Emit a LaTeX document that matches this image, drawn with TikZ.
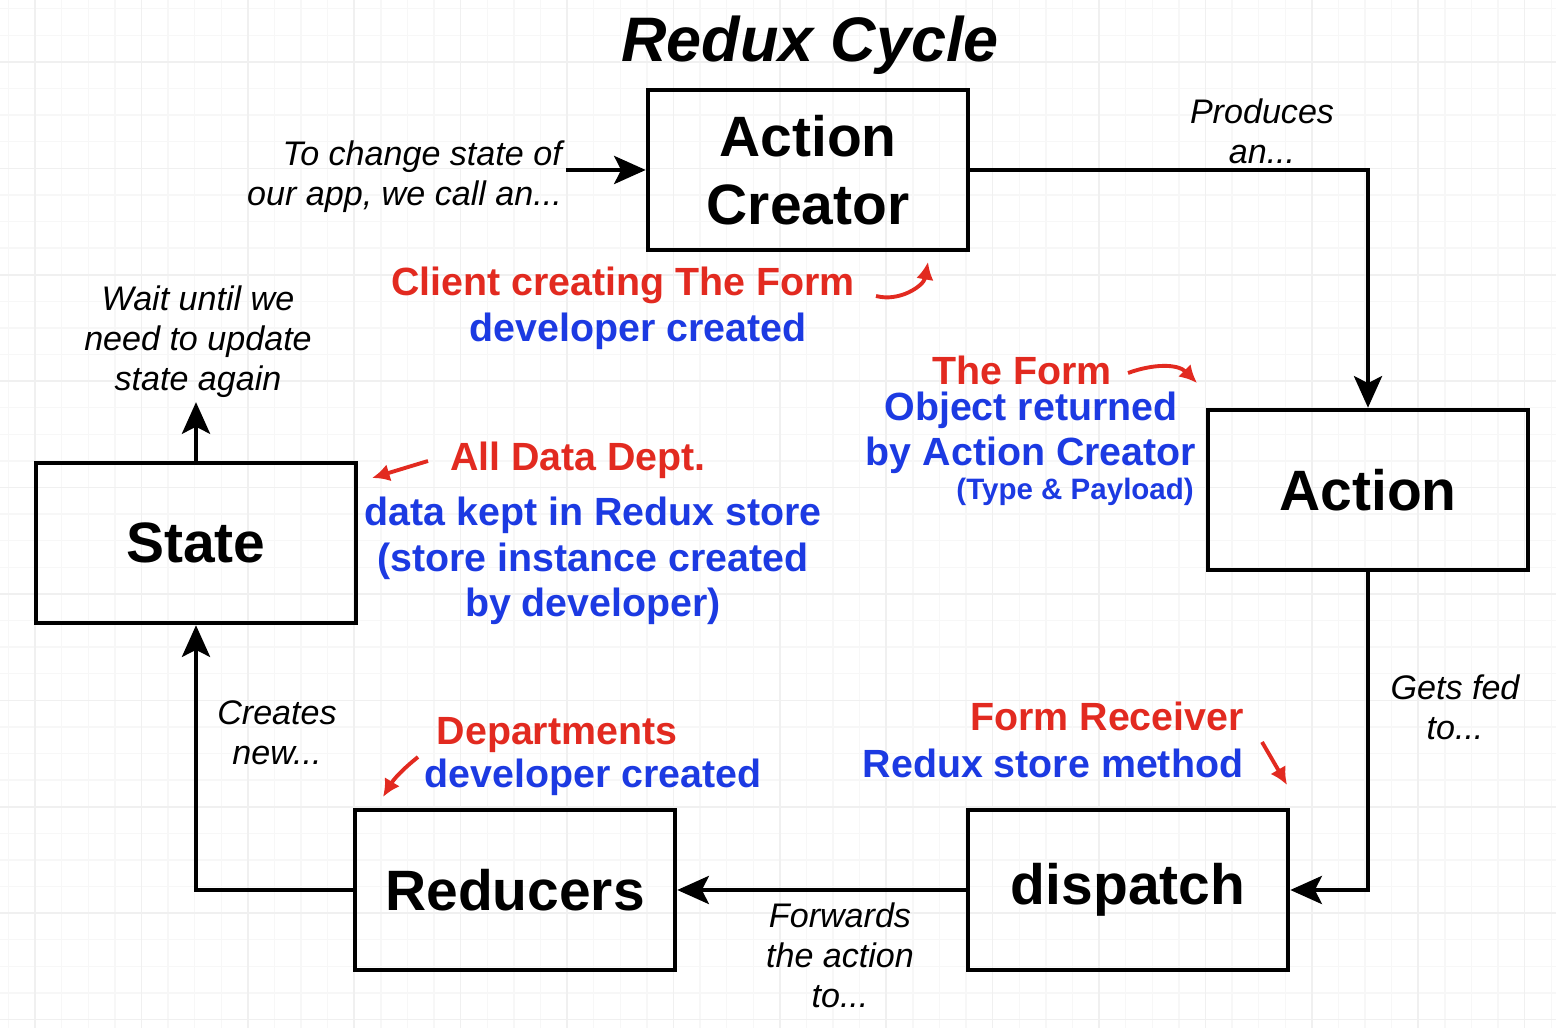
\documentclass[tikz,border=0pt]{standalone}
\usepackage{fontspec}
\setmainfont{Liberation Sans}
\usepackage{xcolor}
\usepackage{tikz}
\usetikzlibrary{arrows.meta}
\definecolor{ReduxRed}{RGB}{226, 42, 32}
\definecolor{ReduxBlue}{RGB}{28, 58, 226}

\begin{document}
\begin{tikzpicture}[
    box/.style={draw, line width=1.3pt, minimum width=3.2cm, minimum height=1.6cm,
        align=center, font=\bfseries\fontsize{16.2}{19.4}\selectfont},
    flow/.style={line width=1.05pt, -{Stealth[length=9pt, width=8pt, inset=2pt]}},
    pointer/.style={ReduxRed, line width=1.1pt, -{Latex[length=5pt, width=5pt]}},
    note/.style={align=center, inner sep=1pt, font=\itshape\fontsize{9.7}{11.4}\selectfont},
    redtxt/.style={ReduxRed, inner sep=1pt, font=\bfseries\fontsize{11.2}{12.9}\selectfont},
    bluetxt/.style={ReduxBlue, align=center, inner sep=1pt, font=\bfseries\fontsize{11.2}{12.9}\selectfont},
    gridminor/.style={black!3, line width=0.4pt},
    gridmajor/.style={black!6, line width=0.5pt}
]
    \useasboundingbox (0,0) rectangle (15.56,10.28);

    % Grid paper
    \foreach \i in {0,...,58} \draw[gridminor] ({0.084+0.266*\i},0) -- ++(0,10.28);
    \foreach \i in {0,...,38} \draw[gridminor] (0,{0.084+0.266*\i}) -- ++(15.56,0);
    \foreach \i in {0,...,14} \draw[gridmajor] ({0.35+1.064*\i},0) -- ++(0,10.28);
    \foreach \i in {0,...,9} \draw[gridmajor] (0,{0.084+1.064*\i}) -- ++(15.56,0);

    % Title
    \node[font=\bfseries\itshape\fontsize{17.9}{21}\selectfont] (title) at (8.10,9.83) {Redux Cycle};

    % Boxes
    \node[box] (creator) at (8.08,8.58) {Action\\Creator};
    \node[box] (action) at (13.68,5.38) {Action};
    \node[box] (dispatch) at (11.28,1.38) {dispatch};
    \node[box] (reducers) at (5.15,1.38) {Reducers};
    \node[box] (state) at (1.96,4.85) {State};

    % Cycle labels
    \node[note, align=right, anchor=east] (callnote) at (5.66,8.51) {To change state of\\our app, we call an...};
    \node[note] (producesnote) at (12.62,8.97) {Produces\\an...};
    \node[note] (fednote) at (14.55,3.21) {Gets fed\\to...};
    \node[note] (forwardnote) at (8.40,0.73) {Forwards\\the action\\to...};
    \node[note] (createsnote) at (2.77,2.95) {Creates\\new...};
    \node[note] (waitnote) at (1.98,6.86) {Wait until we\\need to update\\state again};

    % Cycle
    \draw[flow] (creator.west -| callnote.east) -- (creator.west);
    \draw[flow] (creator.east) -| (action.north);
    \draw[flow] (action.south) |- (dispatch.east);
    \draw[flow] (dispatch.west) -- (reducers.east);
    \draw[flow] (reducers.west) -| (state.south);
    \draw[flow] (state.north) -- (state.north |- waitnote.south);

    % Notes on action creator
    \node[redtxt] (clientred) at (6.23,7.43) {Client creating The Form};
    \node[bluetxt] (clientblue) at (6.38,6.97) {developer created};
    \coordinate (clientfrom) at (8.76,7.32);
    \coordinate (clientto) at (9.28,7.66);
    \draw[pointer] (clientfrom) to[out=-15, in=-100] (clientto);

    % Notes on action
    \node[redtxt] (formred) at (10.22,6.58) {The Form};
    \node[bluetxt] (formblue) at (10.31,5.95) {Object returned\\by Action Creator};
    \node[bluetxt, anchor=east, font=\bfseries\fontsize{8.4}{10}\selectfont] (payload) at (11.98,5.36) {(Type \& Payload)};
    \coordinate (formfrom) at (11.28,6.55);
    \coordinate (formto) at (11.97,6.45);
    \draw[pointer] (formfrom) to[out=20, in=135] (formto);

    % Notes on state
    \node[redtxt] (datared) at (5.78,5.68) {All Data Dept.};
    \node[bluetxt] (datablue) at (5.93,4.67) {data kept in Redux store\\(store instance created\\by developer)};
    \coordinate (datafrom) at (4.28,5.67);
    \coordinate (datato) at (3.72,5.50);
    \draw[pointer] (datafrom) -- (datato);

    % Notes on reducers
    \node[redtxt] (deptred) at (5.57,2.93) {Departments};
    \node[bluetxt] (deptblue) at (5.93,2.51) {developer created};
    \coordinate (deptfrom) at (4.18,2.71);
    \coordinate (deptto) at (3.83,2.31);
    \draw[pointer] (deptfrom) to[bend right=10] (deptto);

    % Notes on dispatch
    \node[redtxt] (receivered) at (11.07,3.12) {Form Receiver};
    \node[bluetxt] (receiveblue) at (10.53,2.65) {Redux store method};
    \coordinate (receivefrom) at (12.62,2.86);
    \coordinate (receiveto) at (12.87,2.43);
    \draw[pointer] (receivefrom) -- (receiveto);
\end{tikzpicture}
\end{document}
